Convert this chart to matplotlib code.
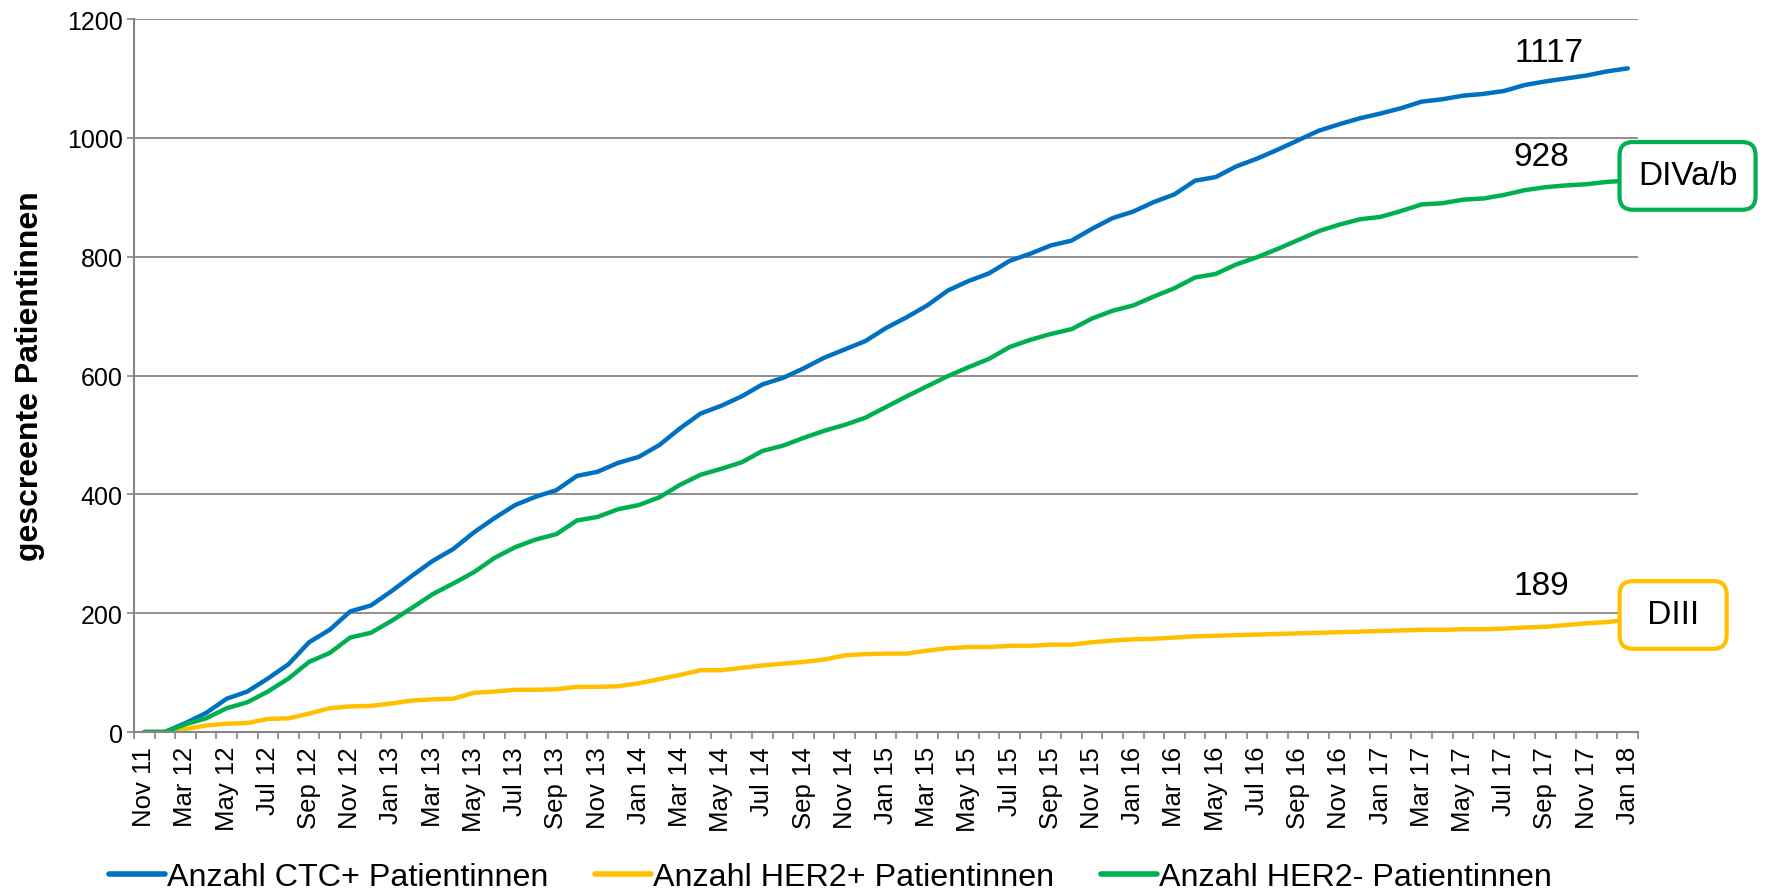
import numpy as np
import matplotlib.pyplot as plt

plt.rcParams['font.family'] = ['Liberation Sans', 'DejaVu Sans']

# cumulative counts per month (Nov 11 ... Jan 18)
ctc_pos = [0, 0, 15, 32, 56, 68, 90, 114, 151, 172,
           203, 213, 237, 263, 288, 308, 336, 360, 382, 396,
           407, 431, 438, 453, 463, 483, 511, 536, 549, 565,
           585, 596, 612, 630, 644, 658, 680, 698, 718, 743,
           759, 772, 793, 805, 819, 827, 847, 865, 876, 892,
           905, 928, 934, 952, 965, 980, 996, 1012, 1023, 1033,
           1041, 1050, 1061, 1065, 1071, 1074, 1079, 1089, 1095, 1100,
           1105, 1112, 1117]
her2_pos = [0, 0, 5, 11, 14, 15, 22, 23, 31, 40,
            43, 44, 48, 53, 55, 56, 66, 68, 71, 71,
            72, 76, 76, 77, 82, 89, 96, 104, 104, 108,
            112, 115, 118, 122, 129, 131, 132, 132, 137, 141,
            143, 143, 145, 145, 147, 147, 151, 154, 156, 157,
            159, 161, 162, 163, 164, 165, 166, 167, 168, 169,
            170, 171, 172, 172, 173, 173, 174, 176, 177, 180,
            183, 185, 189]
her2_neg = [0, 0, 13, 23, 40, 50, 68, 90, 118, 133,
            159, 167, 187, 209, 232, 250, 269, 293, 311, 324,
            333, 356, 362, 375, 382, 395, 416, 433, 443, 454,
            473, 482, 495, 507, 517, 529, 547, 565, 582, 599,
            614, 628, 648, 660, 670, 678, 696, 709, 718, 733,
            747, 765, 771, 787, 799, 813, 828, 843, 854, 863,
            867, 877, 888, 890, 896, 898, 904, 912, 917, 920,
            922, 926, 928]

tick_labels = ['Nov 11', 'Mar 12', 'May 12', 'Jul 12', 'Sep 12', 'Nov 12',
               'Jan 13', 'Mar 13', 'May 13', 'Jul 13', 'Sep 13', 'Nov 13',
               'Jan 14', 'Mar 14', 'May 14', 'Jul 14', 'Sep 14', 'Nov 14',
               'Jan 15', 'Mar 15', 'May 15', 'Jul 15', 'Sep 15', 'Nov 15',
               'Jan 16', 'Mar 16', 'May 16', 'Jul 16', 'Sep 16', 'Nov 16',
               'Jan 17', 'Mar 17', 'May 17', 'Jul 17', 'Sep 17', 'Nov 17',
               'Jan 18']

blue = '#0070C0'
yellow = '#FFC000'
green = '#00B050'
gray = '#868686'

x = np.arange(len(ctc_pos))

fig = plt.figure(figsize=(17.69, 8.95), dpi=100)
ax = fig.add_axes([0.0757, 0.181, 0.8503, 0.7966])

ax.plot(x, ctc_pos, color=blue, lw=3.2, label='Anzahl CTC+ Patientinnen', solid_capstyle='round')
ax.plot(x, her2_pos, color=yellow, lw=3.2, label='Anzahl HER2+ Patientinnen', solid_capstyle='round')
ax.plot(x, her2_neg, color=green, lw=3.2, label='Anzahl HER2- Patientinnen', solid_capstyle='round')

ax.set_xlim(-0.5, len(x) - 0.5)
ax.set_ylim(0, 1200)
ax.set_yticks(range(0, 1201, 200))
ax.set_xticks(x[::2])
ax.set_xticklabels(tick_labels, rotation=90)
ax.set_xticks(np.arange(-0.5, len(x)), minor=True)
ax.tick_params(axis='x', which='major', length=0, pad=10, labelsize=18.5)
ax.tick_params(axis='x', which='minor', length=5, color=gray, width=1.2)
ax.tick_params(axis='y', length=5, color=gray, width=1.2, labelsize=18, pad=3)
ax.grid(axis='y', color=gray, lw=1.3)
ax.set_axisbelow(True)
for s in ['top', 'right']:
    ax.spines[s].set_visible(False)
for s in ['left', 'bottom']:
    ax.spines[s].set_color(gray)
    ax.spines[s].set_linewidth(1.5)

ax.set_ylabel('gescreente Patientinnen', fontsize=23, fontweight='bold')
ax.yaxis.set_label_coords(-0.059, 0.5)

# end values
ax.text(68.2, 1143, '1117', fontsize=24, ha='center', va='center')
ax.text(67.8, 968, '928', fontsize=24, ha='center', va='center')
ax.text(67.8, 246, '189', fontsize=24, ha='center', va='center')

# stage boxes
ax.text(74.9, 936, 'DIVa/b', fontsize=24, ha='center', va='center', zorder=5,
        clip_on=False,
        bbox=dict(boxstyle='round,pad=0.55,rounding_size=0.4', fc='white', ec=green, lw=3))
ax.text(74.2, 197, ' DIII ', fontsize=24, ha='center', va='center', zorder=5,
        clip_on=False,
        bbox=dict(boxstyle='round,pad=0.55,rounding_size=0.4', fc='white', ec=yellow, lw=3))

leg = fig.legend(loc='center left', bbox_to_anchor=(0.0616, 0.019), ncol=3,
                 frameon=False, fontsize=23.2, handlelength=1.75, handletextpad=0.05,
                 columnspacing=1.45, borderpad=0, borderaxespad=0)
for h in leg.get_lines():
    h.set_linewidth(4)

fig.savefig('out.png', dpi=100)
